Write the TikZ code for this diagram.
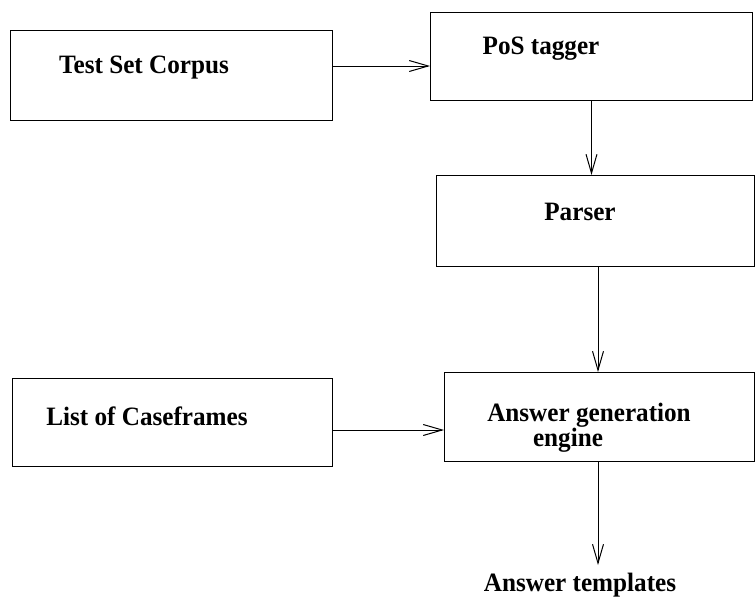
\documentclass[tikz,border=0pt]{standalone}
\usepackage{fontspec}
\setmainfont{Liberation Serif}
\usetikzlibrary{arrows.meta}
\begin{document}
\begin{tikzpicture}[x=1pt,y=-1pt,
  box/.style={draw, line width=1pt, rectangle, inner sep=0pt, anchor=north west},
  lbl/.style={inner sep=0pt, anchor=base, xscale=0.95, font=\fontsize{26.5}{30}\selectfont\bfseries},
  arr/.style={line width=1pt, -{Straight Barb[length=19pt,width=11pt,line width=1pt]}}]
\useasboundingbox (0,0) rectangle (756,600);
\node[box, minimum width=322pt, minimum height=90pt] (b1) at (10,30) {};
\node[box, minimum width=322pt, minimum height=88pt] (b2) at (430,12) {};
\node[box, minimum width=318pt, minimum height=91pt] (b3) at (436,175) {};
\node[box, minimum width=310pt, minimum height=89pt] (b4) at (444,372) {};
\node[box, minimum width=320pt, minimum height=88pt] (b5) at (12,378) {};
\node[lbl] (t1) at (144,73) {Test Set Corpus};
\node[lbl] (t2) at (541,54) {PoS tagger};
\node[lbl] (t3) at (580,220) {Parser};
\node[lbl] (t4a) at (589,421) {Answer generation};
\node[lbl] (t4b) at (568,446) {engine};
\node[lbl] (t5) at (147,425) {List of Caseframes};
\node[lbl] (t6) at (580,591) {Answer templates};
\coordinate (c1) at (0,66);
\coordinate (c5) at (0,430);
\coordinate (e6) at (598,565);
\draw[arr] (b1.east |- c1) -- (b2.west |- c1);
\draw[arr] (b2.south) -- (b2.south |- b3.north);
\draw[arr] (b3.south -| e6) -- (e6 |- b4.north);
\draw[arr] (b5.east |- c5) -- (b4.west |- c5);
\draw[arr] (b4.south -| e6) -- (e6);
\end{tikzpicture}
\end{document}
